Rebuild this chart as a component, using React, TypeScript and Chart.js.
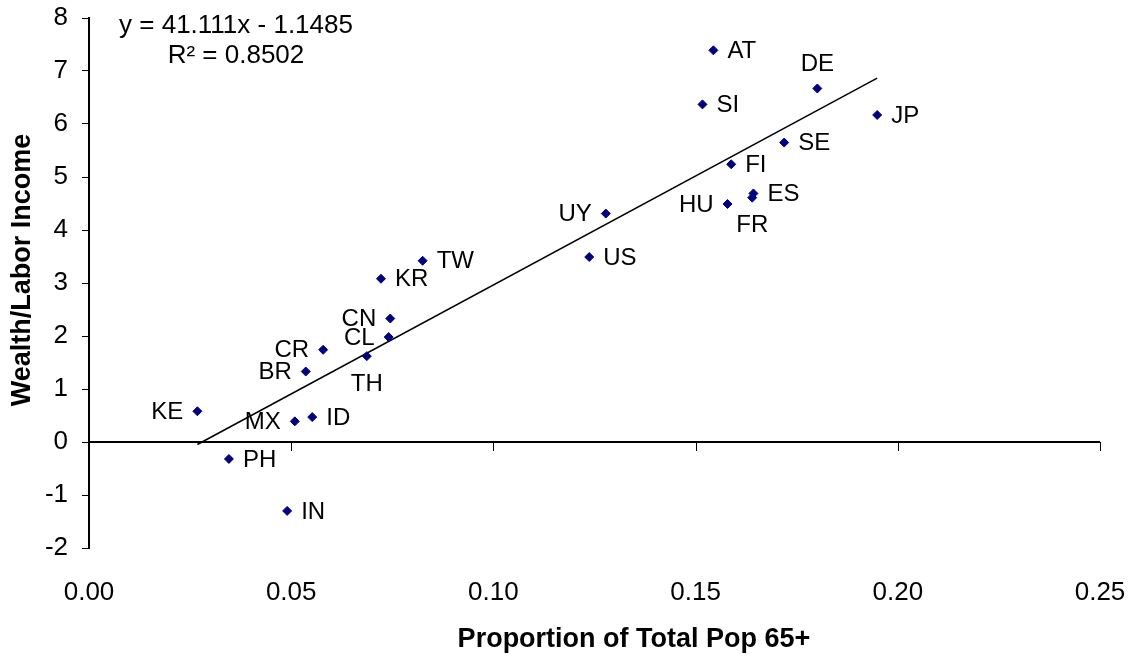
import React, { useEffect, useRef } from "react";
import { Chart, registerables } from "chart.js";

Chart.register(...registerables);

// ---- Data ----
const countries = ["KE", "PH", "MX", "IN", "ID", "BR", "CR", "TH", "CL", "CN", "KR", "TW", "US", "UY", "HU", "FI", "FR", "ES", "SI", "AT", "SE", "DE", "JP"];
const pop65Share = [0.0268, 0.0346, 0.0509, 0.049, 0.0552, 0.0536, 0.0579, 0.0687, 0.0741, 0.0745, 0.0722, 0.0825, 0.1237, 0.1278, 0.1579, 0.1588, 0.164, 0.1643, 0.1517, 0.1544, 0.1719, 0.1801, 0.1949];
const wealthLabor = [0.58, -0.32, 0.39, -1.3, 0.47, 1.33, 1.74, 1.62, 1.98, 2.33, 3.08, 3.42, 3.49, 4.31, 4.49, 5.24, 4.61, 4.69, 6.37, 7.39, 5.65, 6.67, 6.17];
const labelSide = ["left", "right", "left", "right", "right", "left", "left", "below", "left", "left", "right", "right", "right", "left", "left", "right", "below", "right", "right", "right", "right", "above", "right"];
const trendSlope = 41.111;
const trendIntercept = -1.1485;
const rSquared = "0.8502";
const xTicks = [0, 0.05, 0.1, 0.15, 0.2, 0.25];
const yTicks = [-2, -1, 0, 1, 2, 3, 4, 5, 6, 7, 8];
const xTitle = "Proportion of Total Pop 65+";
const yTitle = "Wealth/Labor Income";

const FONT = "'Liberation Sans', Arial, sans-serif";
const MARKER = "#000080";

export default function App() {
  const ref = useRef<HTMLCanvasElement | null>(null);

  useEffect(() => {
    if (!ref.current) return;
    const xmin = Math.min(...pop65Share);
    const xmax = Math.max(...pop65Share);

    const zeroAxis = {
      id: "zeroAxis",
      beforeDatasetsDraw(chart: any) {
        const { ctx, chartArea, scales } = chart;
        const y0 = scales.y.getPixelForValue(0);
        ctx.save();
        ctx.strokeStyle = "#000";
        ctx.lineWidth = 2;
        ctx.beginPath();
        ctx.moveTo(chartArea.left, y0);
        ctx.lineTo(chartArea.right, y0);
        ctx.stroke();
        ctx.lineWidth = 1;
        xTicks.forEach((v) => {
          const px = Math.round(scales.x.getPixelForValue(v)) + 0.5;
          ctx.beginPath();
          ctx.moveTo(px, y0);
          ctx.lineTo(px, y0 + 9);
          ctx.stroke();
        });
        ctx.restore();
      },
    };

    const pointLabels = {
      id: "pointLabels",
      afterDatasetsDraw(chart: any) {
        const { ctx } = chart;
        const meta = chart.getDatasetMeta(0);
        ctx.save();
        ctx.font = `24px ${FONT}`;
        ctx.fillStyle = "#000";
        ctx.textBaseline = "middle";
        meta.data.forEach((el: any, i: number) => {
          const side = labelSide[i];
          let x = el.x;
          let y = el.y + 1;
          if (side === "right") {
            ctx.textAlign = "left";
            x += 14;
          } else if (side === "left") {
            ctx.textAlign = "right";
            x -= 14;
          } else if (side === "above") {
            ctx.textAlign = "center";
            y = el.y - 24;
          } else {
            ctx.textAlign = "center";
            y = el.y + 28;
          }
          ctx.fillText(countries[i], x, y);
        });
        ctx.restore();
      },
    };

    const texts = {
      id: "texts",
      afterDraw(chart: any) {
        const { ctx, chartArea } = chart;
        const sign = trendIntercept < 0 ? "-" : "+";
        ctx.save();
        ctx.fillStyle = "#000";
        ctx.textAlign = "center";
        ctx.textBaseline = "middle";
        // trendline equation
        ctx.font = `26px ${FONT}`;
        const cx = chartArea.left + 147;
        ctx.fillText(`y = ${trendSlope}x ${sign} ${Math.abs(trendIntercept)}`, cx, chartArea.top + 8);
        ctx.fillText(`R\u00B2 = ${rSquared}`, cx, chartArea.top + 38);
        // axis titles
        ctx.font = `bold 27px ${FONT}`;
        ctx.fillText(xTitle, chartArea.left + 545, chartArea.bottom + 92);
        ctx.translate(23, chartArea.top + 252);
        ctx.rotate(-Math.PI / 2);
        ctx.fillText(yTitle, 0, 0);
        ctx.restore();
      },
    };

    const zeroPad = (scale: any) => {
      scale.paddingTop = 0;
      scale.paddingBottom = 0;
      scale.paddingLeft = 0;
      scale.paddingRight = 0;
    };

    const chart = new Chart(ref.current, {
      type: "scatter",
      data: {
        datasets: [
          {
            label: "Countries",
            data: pop65Share.map((x, i) => ({ x, y: wealthLabor[i] })),
            pointStyle: "rectRot",
            pointRadius: 4.5,
            pointBorderWidth: 1,
            backgroundColor: MARKER,
            borderColor: MARKER,
          } as any,
          {
            type: "line",
            label: "Trend",
            data: [
              { x: xmin, y: trendSlope * xmin + trendIntercept },
              { x: xmax, y: trendSlope * xmax + trendIntercept },
            ],
            borderColor: "#000",
            borderWidth: 1.5,
            pointRadius: 0,
            fill: false,
          } as any,
        ],
      },
      options: {
        animation: false,
        responsive: false,
        maintainAspectRatio: false,
        layout: { padding: { top: 18, right: 37, left: 0, bottom: 0 } },
        plugins: {
          legend: { display: false },
          tooltip: { enabled: false },
        },
        scales: {
          x: {
            type: "linear",
            min: 0,
            max: 0.25,
            afterFit(scale: any) {
              scale.height = 110;
              zeroPad(scale);
            },
            afterBuildTicks(scale: any) {
              scale.ticks = xTicks.map((v) => ({ value: v }));
            },
            grid: { display: false },
            border: { display: false },
            ticks: {
              color: "#000",
              font: { family: FONT, size: 26 },
              padding: 21,
              maxRotation: 0,
              callback: (v: any) => Number(v).toFixed(2),
            },
            title: { display: false },
          },
          y: {
            type: "linear",
            min: -2,
            max: 8,
            afterFit(scale: any) {
              scale.width = 89;
              zeroPad(scale);
            },
            afterBuildTicks(scale: any) {
              scale.ticks = yTicks.map((v) => ({ value: v }));
            },
            grid: {
              display: true,
              drawOnChartArea: false,
              drawTicks: true,
              tickLength: 7,
              color: "#000",
              lineWidth: 1,
            },
            border: { display: true, color: "#000", width: 2 },
            ticks: {
              color: "#000",
              font: { family: FONT, size: 26 },
              padding: 14,
              callback: (v: any) => String(v),
            },
            title: { display: false },
          },
        },
      } as any,
      plugins: [zeroAxis, pointLabels, texts],
    });

    return () => chart.destroy();
  }, []);

  return (
    <div style={{ position: "absolute", left: 0, top: 0, width: 1137, height: 658, background: "#fff" }}>
      <canvas ref={ref} width={1137} height={658} />
    </div>
  );
}
